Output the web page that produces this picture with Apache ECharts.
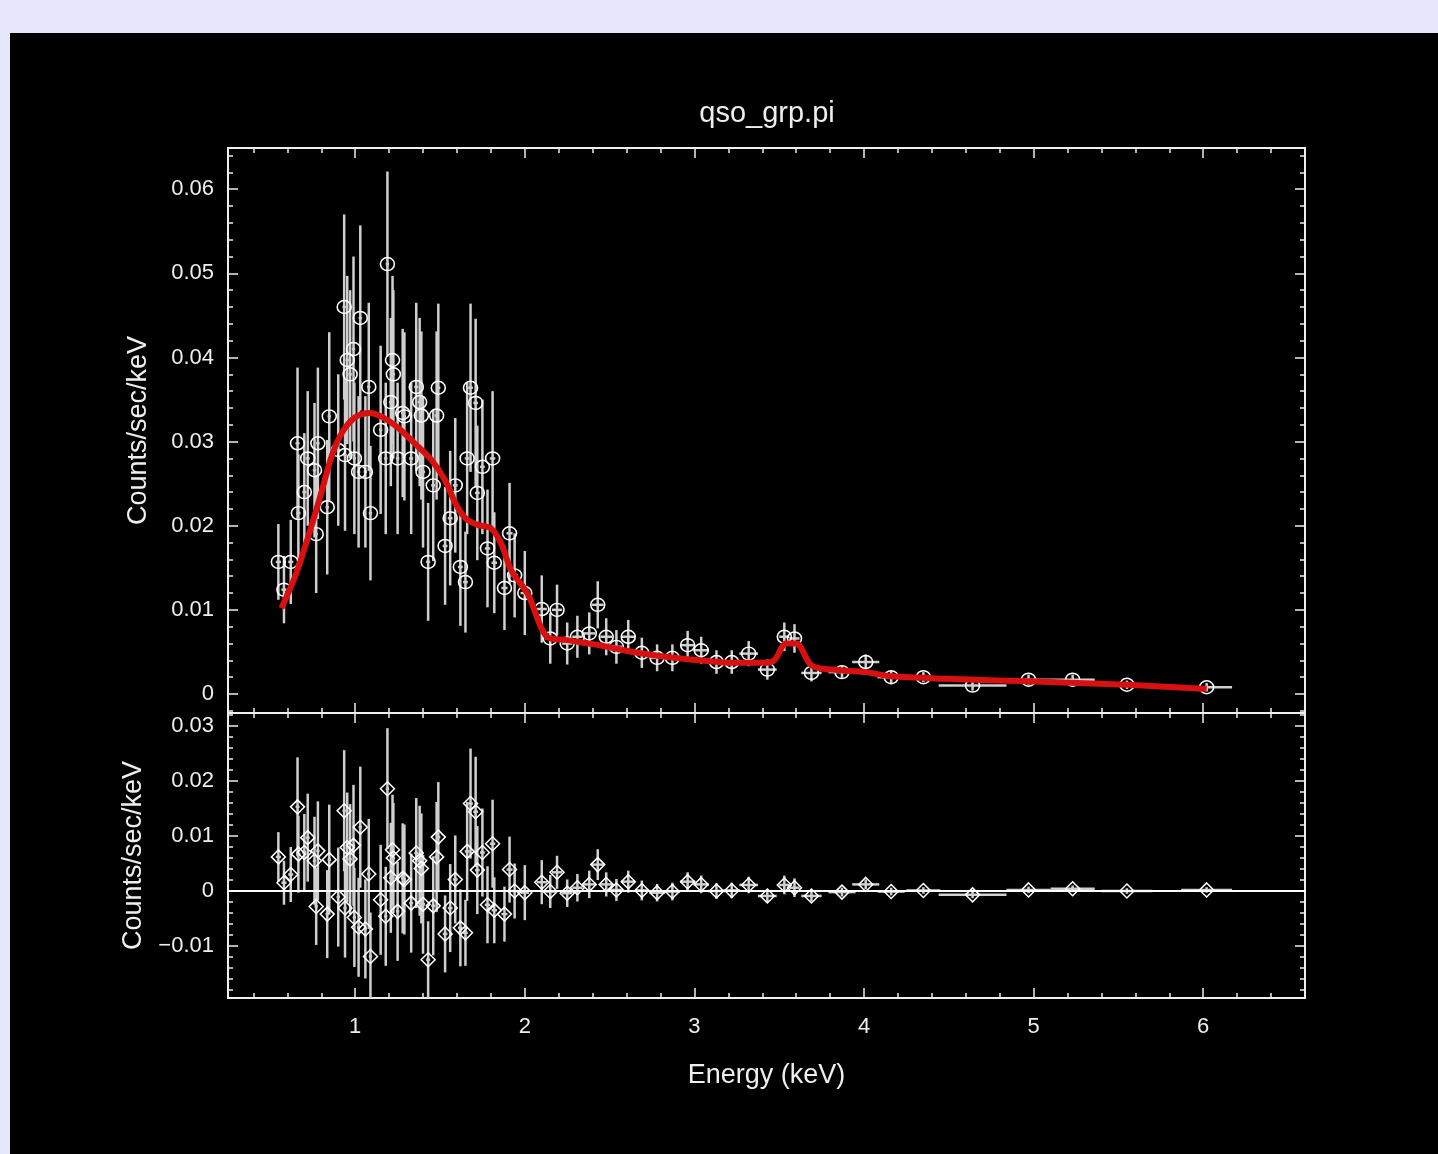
<!DOCTYPE html>
<html>
<head>
<meta charset="utf-8">
<script src="https://cdn.jsdelivr.net/npm/echarts@6/dist/echarts.min.js"></script>
<style>
  html, body { margin: 0; padding: 0; background: #e6e6fa; }
  #panel { position: absolute; left: 10px; top: 33px; width: 1428px; height: 1121px; background: #000; }
</style>
</head>
<body>
<div id="panel"></div>
<script>
// spectrum bins (keV)
var energy = [0.547, 0.58, 0.62, 0.66, 0.665, 0.70, 0.72, 0.76, 0.77, 0.78,
  0.835, 0.847, 0.90, 0.935, 0.94, 0.953, 0.97, 0.99, 0.995, 1.02,
  1.03, 1.06, 1.08, 1.09, 1.15, 1.18, 1.19, 1.21, 1.22, 1.225,
  1.25, 1.28, 1.29, 1.33, 1.36, 1.38, 1.39, 1.40, 1.43, 1.46,
  1.48, 1.49, 1.53, 1.56, 1.59, 1.62, 1.65, 1.66, 1.68, 1.71,
  1.72, 1.75, 1.78, 1.81, 1.82, 1.88, 1.91, 1.94, 2.00, 2.10,
  2.15, 2.19, 2.25, 2.31, 2.38, 2.43, 2.48, 2.54, 2.61, 2.69,
  2.78, 2.87, 2.96, 3.04, 3.13, 3.22, 3.32, 3.43, 3.53, 3.59,
  3.69, 3.87, 4.01, 4.16, 4.35, 4.64, 4.97, 5.23, 5.55, 6.02];
var binHalf = [0.015, 0.015, 0.015, 0.012, 0.012, 0.012, 0.012, 0.01, 0.01, 0.01,
  0.01, 0.01, 0.01, 0.01, 0.01, 0.01, 0.01, 0.01, 0.01, 0.01,
  0.01, 0.01, 0.01, 0.01, 0.01, 0.01, 0.01, 0.01, 0.01, 0.01,
  0.01, 0.01, 0.01, 0.012, 0.012, 0.012, 0.012, 0.012, 0.012, 0.012,
  0.012, 0.012, 0.014, 0.014, 0.014, 0.014, 0.014, 0.014, 0.014, 0.014,
  0.014, 0.014, 0.016, 0.016, 0.016, 0.018, 0.018, 0.02, 0.025, 0.03,
  0.03, 0.03, 0.03, 0.03, 0.035, 0.035, 0.035, 0.035, 0.04, 0.04,
  0.045, 0.045, 0.045, 0.045, 0.05, 0.05, 0.055, 0.055, 0.03, 0.03,
  0.06, 0.08, 0.08, 0.08, 0.1, 0.2, 0.13, 0.13, 0.15, 0.15];
var counts = [0.0157, 0.0124, 0.0157, 0.0298, 0.0215, 0.0240, 0.0280, 0.0266, 0.0190, 0.0298,
  0.0222, 0.0330, 0.0290, 0.0460, 0.0284, 0.0397, 0.0380, 0.0410, 0.0280, 0.0264,
  0.0447, 0.0264, 0.0365, 0.0215, 0.0314, 0.0280, 0.0511, 0.0347, 0.0397, 0.0380,
  0.0280, 0.0334, 0.0330, 0.0280, 0.0365, 0.0347, 0.0331, 0.0264, 0.0157, 0.0248,
  0.0331, 0.0364, 0.0176, 0.0209, 0.0248, 0.0151, 0.0133, 0.0280, 0.0364, 0.0346,
  0.0239, 0.0270, 0.0173, 0.0280, 0.0156, 0.0126, 0.0191, 0.0141, 0.0120, 0.0101,
  0.0066, 0.0100, 0.0060, 0.0068, 0.0072, 0.0106, 0.0068, 0.0056, 0.0068, 0.0049,
  0.0043, 0.0043, 0.0058, 0.0052, 0.0038, 0.0038, 0.0048, 0.0029, 0.0068, 0.0066,
  0.0025, 0.0026, 0.0038, 0.0020, 0.0020, 0.0010, 0.0017, 0.0017, 0.0011, 0.0008];
var countErr = [0.0045, 0.004, 0.005, 0.009, 0.007, 0.007, 0.008, 0.008, 0.007, 0.009,
  0.008, 0.010, 0.009, 0.011, 0.009, 0.010, 0.010, 0.011, 0.009, 0.009,
  0.011, 0.009, 0.010, 0.008, 0.010, 0.009, 0.011, 0.010, 0.010, 0.010,
  0.009, 0.010, 0.010, 0.009, 0.010, 0.010, 0.010, 0.009, 0.007, 0.009,
  0.010, 0.010, 0.007, 0.008, 0.008, 0.007, 0.006, 0.009, 0.010, 0.010,
  0.008, 0.008, 0.007, 0.008, 0.006, 0.005, 0.006, 0.005, 0.005, 0.004,
  0.003, 0.003, 0.0025, 0.0025, 0.0025, 0.0028, 0.0022, 0.002, 0.002, 0.0018,
  0.0016, 0.0016, 0.0017, 0.0016, 0.0014, 0.0014, 0.0015, 0.0012, 0.0017, 0.0017,
  0.001, 0.0008, 0.0009, 0.0007, 0.0006, 0.0006, 0.0006, 0.0006, 0.0005, 0.0005];
var resid = [0.0062, 0.0015, 0.0030, 0.0153, 0.0067, 0.0070, 0.0097, 0.0055, -0.0028, 0.0073,
  -0.0042, 0.0057, -0.0011, 0.0146, -0.0031, 0.0079, 0.0058, 0.0083, -0.0048, -0.0066,
  0.0116, -0.0069, 0.0031, -0.0119, -0.0016, -0.0046, 0.0186, 0.0024, 0.0075, 0.0060,
  -0.0037, 0.0023, 0.0021, -0.0022, 0.0069, 0.0055, 0.0041, -0.0024, -0.0125, -0.0027,
  0.0062, 0.0098, -0.0078, -0.0031, 0.0021, -0.0067, -0.0076, 0.0072, 0.0159, 0.0144,
  0.0038, 0.0070, -0.0025, 0.0086, -0.0035, -0.0042, 0.0039, 0.0000, -0.0003, 0.0016,
  -0.0001, 0.0034, -0.0004, 0.0006, 0.0012, 0.0048, 0.0012, 0.0002, 0.0017, 0.0001,
  -0.0003, -0.0001, 0.0017, 0.0012, 0.0000, 0.0001, 0.0011, -0.0009, 0.0011, 0.0006,
  -0.0009, -0.0002, 0.0012, -0.0001, 0.0001, -0.0007, 0.0002, 0.0004, 0.0000, 0.0002];

// folded model
var modelE = [0.565, 0.65, 0.72, 0.80, 0.86, 0.92, 1.0, 1.09, 1.16, 1.25,
  1.35, 1.45, 1.53, 1.59, 1.65, 1.72, 1.80, 1.86, 1.92, 2.02,
  2.13, 2.25, 2.44, 2.64, 2.84, 3.03, 3.22, 3.40, 3.47, 3.54,
  3.60, 3.69, 3.81, 4.01, 4.16, 4.50, 4.97, 5.55, 6.02];
var modelCounts = [0.0102, 0.0142, 0.0185, 0.0239, 0.0282, 0.0310, 0.0329, 0.0334, 0.0329, 0.0317,
  0.0298, 0.0278, 0.0254, 0.0227, 0.0209, 0.0201, 0.0197, 0.0179, 0.0147, 0.0118,
  0.0068, 0.0064, 0.0058, 0.0050, 0.0044, 0.0040, 0.0037, 0.0037, 0.0040, 0.0060,
  0.0060, 0.0034, 0.0029, 0.0026, 0.0021, 0.0018, 0.0015, 0.0011, 0.0006];

// axes
var xMajor = [1, 2, 3, 4, 5, 6];
var topMajor = [0, 0.01, 0.02, 0.03, 0.04, 0.05, 0.06];
var botMajor = [-0.01, 0, 0.01, 0.02, 0.03];
var X_MIN = 0.25, X_MAX = 6.6;
var TOP_MIN = -0.00226, TOP_MAX = 0.0649;
var BOT_MIN = -0.01945, BOT_MAX = 0.03236;

function minors(lo, hi, step, majors) {
  var out = [];
  for (var k = Math.ceil(lo / step); k * step <= hi; k++) {
    var v = +(k * step).toFixed(6);
    if (majors.indexOf(v) < 0) out.push(v);
  }
  return out;
}

var ink = '#eeeeee';
var font = 'Liberation Sans, Arial, sans-serif';

function fmtY(v) {
  if (Math.abs(v) < 1e-9) return '0';
  return v.toFixed(2).replace('-', '\u2212');
}

function xAxis(grid, pos, values, len, labels, name) {
  return {
    type: 'value', gridIndex: grid, position: pos, min: X_MIN, max: X_MAX,
    axisLine: { show: false, onZero: false },
    splitLine: { show: false },
    axisTick: { show: true, inside: true, length: len, customValues: values, lineStyle: { color: ink, width: 1.5 } },
    axisLabel: labels ? { show: true, customValues: values, color: ink, fontSize: 22, fontFamily: font, margin: 18 } : { show: false },
    name: name || '', nameLocation: 'middle', nameGap: 64,
    nameTextStyle: { color: ink, fontSize: 27, fontFamily: font }
  };
}

function yAxis(grid, pos, min, max, values, len, labels, name) {
  return {
    type: 'value', gridIndex: grid, position: pos, min: min, max: max,
    axisLine: { show: false, onZero: false },
    splitLine: { show: false },
    axisTick: { show: true, inside: true, length: len, customValues: values, lineStyle: { color: ink, width: 1.5 } },
    axisLabel: labels ? { show: true, customValues: values, color: ink, fontSize: 22, fontFamily: font, margin: 14, formatter: fmtY } : { show: false },
    name: name || '', nameLocation: 'middle', nameGap: 76,
    nameTextStyle: { color: ink, fontSize: 27, fontFamily: font }
  };
}

var xMinor = minors(0.4, 6.4, 0.2, xMajor);
var topMinor = minors(-0.002, 0.064, 0.002, topMajor);
var botMinor = minors(-0.018, 0.032, 0.002, botMajor);

var xAxes = [
  xAxis(0, 'bottom', xMajor, 10), xAxis(0, 'bottom', xMinor, 5),
  xAxis(0, 'top', xMajor, 10), xAxis(0, 'top', xMinor, 5),
  xAxis(1, 'bottom', xMajor, 10, true, 'Energy (keV)'), xAxis(1, 'bottom', xMinor, 5),
  xAxis(1, 'top', xMajor, 10), xAxis(1, 'top', xMinor, 5)
];
var yAxes = [
  yAxis(0, 'left', TOP_MIN, TOP_MAX, topMajor, 10, true, 'Counts/sec/keV'), yAxis(0, 'left', TOP_MIN, TOP_MAX, topMinor, 5),
  yAxis(0, 'right', TOP_MIN, TOP_MAX, topMajor, 10), yAxis(0, 'right', TOP_MIN, TOP_MAX, topMinor, 5),
  yAxis(1, 'left', BOT_MIN, BOT_MAX, botMajor, 10, true, 'Counts/sec/keV'), yAxis(1, 'left', BOT_MIN, BOT_MAX, botMinor, 5),
  yAxis(1, 'right', BOT_MIN, BOT_MAX, botMajor, 10), yAxis(1, 'right', BOT_MIN, BOT_MAX, botMinor, 5)
];

function errBars(vals, xi, yi) {
  return {
    type: 'custom', xAxisIndex: xi, yAxisIndex: yi, clip: true, silent: true, z: 2,
    data: energy.map(function(e, i) { return [e, vals[i], countErr[i], binHalf[i]]; }),
    encode: { x: 0, y: 1 },
    renderItem: function(params, api) {
      var x = api.value(0), y = api.value(1), ey = api.value(2), ex = api.value(3);
      var lo = api.coord([x, y - ey]), hi = api.coord([x, y + ey]);
      var l = api.coord([x - ex, y]), r = api.coord([x + ex, y]);
      var st = { stroke: '#cfcfcf', lineWidth: 2.5 };
      return {
        type: 'group',
        children: [
          { type: 'line', shape: { x1: lo[0], y1: lo[1], x2: hi[0], y2: hi[1] }, style: st },
          { type: 'line', shape: { x1: l[0], y1: l[1], x2: r[0], y2: r[1] }, style: st }
        ]
      };
    }
  };
}

var chart = echarts.init(document.getElementById('panel'), null, { renderer: 'canvas' });
chart.setOption({
  animation: false,
  backgroundColor: '#000',
  graphic: [{
    type: 'text', x: 757, y: 81,
    style: { text: 'qso_grp.pi', fill: ink, fontSize: 29, fontFamily: font, textAlign: 'center', textVerticalAlign: 'middle' }
  }],
  grid: [
    { left: 218, top: 115, width: 1077, height: 565, show: true, borderColor: ink, borderWidth: 2, backgroundColor: 'transparent' },
    { left: 218, top: 680, width: 1077, height: 285, show: true, borderColor: ink, borderWidth: 2, backgroundColor: 'transparent' }
  ],
  xAxis: xAxes,
  yAxis: yAxes,
  series: [
    errBars(counts, 0, 0),
    {
      type: 'scatter', xAxisIndex: 0, yAxisIndex: 0, z: 3,
      data: energy.map(function(e, i) { return [e, counts[i]]; }),
      symbol: 'circle', symbolSize: [14, 13],
      itemStyle: { color: 'rgba(0,0,0,0)', borderColor: '#ffffff', borderWidth: 1.5, opacity: 1 }
    },
    {
      type: 'line', xAxisIndex: 0, yAxisIndex: 0, z: 4,
      data: modelE.map(function(e, i) { return [e, modelCounts[i]]; }),
      smooth: 0.3, showSymbol: false,
      lineStyle: { color: '#d81010', width: 6 }
    },
    errBars(resid, 4, 4),
    {
      type: 'scatter', xAxisIndex: 4, yAxisIndex: 4, z: 3,
      data: energy.map(function(e, i) { return [e, resid[i]]; }),
      symbol: 'diamond', symbolSize: 14,
      itemStyle: { color: 'rgba(0,0,0,0)', borderColor: '#ffffff', borderWidth: 1.5, opacity: 1 },
      markLine: {
        silent: true, symbol: 'none', label: { show: false },
        lineStyle: { color: '#ffffff', width: 2, type: 'solid' },
        data: [{ yAxis: 0 }]
      }
    }
  ]
});
</script>
</body>
</html>
